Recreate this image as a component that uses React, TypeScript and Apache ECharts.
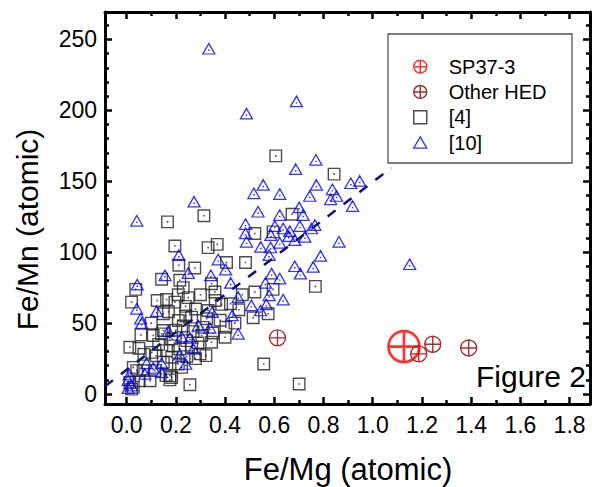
import React, { useEffect, useRef } from 'react';
import * as echarts from 'echarts';

const FONT = "'Liberation Sans', Arial, Helvetica, sans-serif";

const X_MIN = -0.088;
const X_MAX = 1.883;
const Y_MIN = -7;
const Y_MAX = 269.3;

const xTickValues = [0, 0.2, 0.4, 0.6, 0.8, 1.0, 1.2, 1.4, 1.6, 1.8];
const xMinorValues = [0.1, 0.3, 0.5, 0.7, 0.9, 1.1, 1.3, 1.5, 1.7];
const yTickValues = [0, 50, 100, 150, 200, 250];
const yMinorValues = [10, 20, 30, 40, 60, 70, 80, 90, 110, 120, 130, 140, 160, 170, 180, 190, 210, 220, 230, 240, 260];

const sp37Data = [[1.127, 33.5]];
const otherHedData = [[0.613, 39.6], [1.187, 28.3], [1.244, 35.1], [1.39, 32.5]];

const ref4Data = [
  [0.606, 167.9], [0.843, 155.0], [0.314, 125.7], [0.166, 121.4], [0.672, 126.7],
  [0.521, 113.2], [0.595, 114.3], [0.196, 104.4], [0.331, 103.2], [0.368, 105.5],
  [0.767, 75.9], [0.701, 7.1], [0.212, 90.8], [0.277, 88.9], [0.406, 92.7],
  [0.483, 92.7], [0.142, 80.9], [0.216, 80.2], [0.345, 77.8], [0.037, 73.8],
  [0.23, 75.0], [0.359, 71.9], [0.521, 71.9], [0.595, 73.8], [0.02, 64.8],
  [0.124, 66.0], [0.162, 66.7], [0.196, 64.8], [0.24, 61.8], [0.331, 58.9],
  [0.386, 63.2], [0.422, 63.7], [0.456, 59.4], [0.514, 53.8], [0.575, 56.6],
  [0.21, 51.9], [0.264, 54.2], [0.325, 53.1], [0.149, 44.8], [0.058, 41.7],
  [0.108, 41.3], [0.183, 38.9], [0.244, 37.7], [0.305, 41.3], [0.345, 36.5],
  [0.403, 47.1], [0.013, 33.0], [0.05, 32.3], [0.102, 29.4], [0.162, 30.6],
  [0.216, 31.8], [0.264, 33.0], [0.298, 28.3], [0.322, 27.1], [0.244, 26.4],
  [0.183, 25.9], [0.21, 21.2], [0.149, 22.4], [0.223, 18.8], [0.095, 9.4],
  [0.183, 11.7], [0.257, 6.6], [0.013, 8.2], [0.027, 4.7], [0.067, 16.5],
  [0.041, 16.5], [0.115, 16.5], [0.557, 21.2], [0.149, 56.6], [0.142, 42.4],
  [0.027, 18.8], [0.051, 9.4], [0.176, 10.0], [0.02, 3.5], [0.176, 13.0],
  [0.2, 45], [0.23, 48], [0.27, 44], [0.29, 36], [0.19, 34], [0.13, 35],
  [0.28, 25], [0.31, 47], [0.35, 43], [0.38, 52], [0.24, 55], [0.17, 58],
  [0.28, 60], [0.36, 66], [0.44, 50], [0.4, 40], [0.1, 50], [0.07, 28],
  [0.21, 70], [0.3, 70], [0.25, 68], [0.47, 70], [0.16, 13], [0.12, 27]
];

const ref10Data = [
  [0.334, 243.4], [0.69, 206.3], [0.487, 197.6], [0.769, 165.1], [0.687, 158.5],
  [0.555, 147.4], [0.517, 141.5], [0.622, 141.0], [0.771, 147.4], [0.744, 139.6],
  [0.836, 144.3], [0.829, 137.3], [0.853, 139.6], [0.911, 148.6], [0.947, 150.2],
  [0.918, 132.5], [0.274, 135.6], [0.041, 122.1], [0.534, 128.5], [0.622, 126.2],
  [0.701, 131.6], [0.717, 126.2], [0.483, 119.8], [0.602, 118.4], [0.636, 116.7],
  [0.663, 114.8], [0.704, 118.4], [0.751, 116.7], [0.765, 119.1], [0.483, 113.2],
  [0.586, 112.0], [0.659, 111.3], [0.724, 110.8], [0.487, 107.3], [0.622, 106.6],
  [0.683, 108.5], [0.863, 107.3], [0.545, 103.7], [0.585, 103.3], [0.788, 97.4],
  [0.579, 97.9], [1.15, 91.5], [0.683, 90.1], [0.758, 89.6], [0.706, 84.9],
  [0.636, 66.5], [0.622, 81.4], [0.212, 97.9], [0.372, 94.8], [0.402, 87.7],
  [0.25, 85.3], [0.156, 83.7], [0.342, 83.7], [0.043, 77.1], [0.423, 78.3],
  [0.453, 68.4], [0.041, 60.1], [0.122, 58.4], [0.057, 53.1], [0.061, 50.0],
  [0.348, 57.7], [0.429, 55.4], [0.291, 48.3], [0.338, 46.7], [0.169, 44.3],
  [0.223, 40.5], [0.257, 39.6], [0.271, 31.8], [0.453, 42.5], [0.216, 27.8],
  [0.24, 21.2], [0.081, 21.7], [0.142, 21.7], [0.108, 18.4], [0.142, 15.3],
  [0.074, 14.2], [0.011, 13.7], [0.006, 9.9], [0.02, 5.9], [0.006, 4.2],
  [0.507, 62.5], [0.544, 58.9], [0.568, 63.2], [0.579, 69.6], [0.564, 78.3],
  [0.589, 84.9]
];

const trendLine = [[-0.088, 5.5], [1.076, 159.5]];

const CROSS_PATH = 'path://M0 -10A10 10 0 1 1 0 10A10 10 0 1 1 0 -10Z M-10 0L10 0M0 -10L0 10';
const SQUARE_DOT = 'path://M0 0H12V12H0Z M5.9 5.9H6.1V6.1H5.9Z';
const TRI_DOT = 'path://M6 0L12 10.4L0 10.4Z M5.9 6.6H6.1V6.8H5.9Z';
const SQUARE = 'path://M0 0H12V12H0Z';
const TRI = 'path://M6 0L12 10.4L0 10.4Z';

function xAxisDef(position: 'bottom' | 'top', values: number[], len: number, labels: boolean, line: boolean) {
  return {
    type: 'value', min: X_MIN, max: X_MAX, position,
    axisLine: { show: line, onZero: false, lineStyle: { color: '#000', width: 3 } },
    axisTick: { show: true, inside: true, length: len, customValues: values, lineStyle: { color: '#000', width: 2.5 } },
    axisLabel: labels
      ? { show: true, customValues: values, formatter: (v: number) => v.toFixed(1), fontSize: 23, color: '#000', fontFamily: FONT, margin: 9 }
      : { show: false },
    splitLine: { show: false },
  };
}

function yAxisDef(position: 'left' | 'right', values: number[], len: number, labels: boolean, line: boolean) {
  return {
    type: 'value', min: Y_MIN, max: Y_MAX, position,
    axisLine: { show: line, onZero: false, lineStyle: { color: '#000', width: 3 } },
    axisTick: { show: true, inside: true, length: len, customValues: values, lineStyle: { color: '#000', width: 2.5 } },
    axisLabel: labels
      ? { show: true, customValues: values, formatter: (v: number) => String(Math.round(v)), fontSize: 23, color: '#000', fontFamily: FONT, margin: 8 }
      : { show: false },
    splitLine: { show: false },
  };
}

export default function App() {
  const ref = useRef<HTMLDivElement>(null);
  useEffect(() => {
    if (!ref.current) return;
    const chart = echarts.init(ref.current, null, { renderer: 'svg' });
    chart.setOption({
      animation: false,
      backgroundColor: '#fff',
      grid: { left: 105, top: 12, width: 485, height: 392, outerBoundsMode: 'none', containLabel: false },
      xAxis: [
        xAxisDef('bottom', xTickValues, 7, true, true),
        xAxisDef('bottom', xMinorValues, 4, false, false),
        xAxisDef('top', xTickValues, 7, false, true),
        xAxisDef('top', xMinorValues, 4, false, false),
      ],
      yAxis: [
        yAxisDef('left', yTickValues, 7, true, true),
        yAxisDef('left', yMinorValues, 4, false, false),
        yAxisDef('right', yTickValues, 7, false, true),
        yAxisDef('right', yMinorValues, 4, false, false),
      ],
      legend: {
        orient: 'vertical', left: 413, top: 54, padding: 0,
        itemWidth: 13, itemHeight: 13, itemGap: 0, selectedMode: false,
        textStyle: { fontSize: 20, fontFamily: FONT, color: '#000', lineHeight: 25.3, padding: [0, 0, 0, 17] },
        data: [
          { name: 'SP37-3', icon: CROSS_PATH, itemStyle: { borderWidth: 1.5 } },
          { name: 'Other HED', icon: CROSS_PATH, itemStyle: { borderWidth: 1.5 } },
          { name: '[4]', icon: SQUARE, itemStyle: { borderWidth: 1.5 } },
          { name: '[10]', icon: TRI, itemStyle: { borderWidth: 1.3 } },
        ],
      },
      graphic: [
        { type: 'rect', shape: { x: 388, y: 34, width: 184, height: 129 }, style: { fill: 'transparent', stroke: '#555', lineWidth: 1.3 }, z: 1 },
        { type: 'text', x: 348, y: 469, style: { text: 'Fe/Mg (atomic)', font: `31px ${FONT}`, fill: '#000', align: 'center', verticalAlign: 'middle' } },
        { type: 'text', x: 27, y: 229.5, rotation: Math.PI / 2, style: { text: 'Fe/Mn (atomic)', font: `30px ${FONT}`, fill: '#000', align: 'center', verticalAlign: 'middle' } },
        { type: 'text', x: 476, y: 376, style: { text: 'Figure 2', font: `30px ${FONT}`, fill: '#000', align: 'left', verticalAlign: 'middle' } },
      ],
      series: [
        {
          name: '[4]', type: 'scatter', data: ref4Data, symbol: SQUARE_DOT, symbolSize: 11.5,
          itemStyle: { color: 'transparent', borderColor: '#222', borderWidth: 1.4 }, z: 2, silent: true,
        },
        {
          name: '[10]', type: 'scatter', data: ref10Data, symbol: TRI_DOT, symbolSize: [12, 10.5],
          itemStyle: { color: 'transparent', borderColor: '#0000ff', borderWidth: 1.3 }, z: 3, silent: true,
        },
        {
          name: 'fit', type: 'line', data: trendLine, symbol: 'none', showSymbol: false,
          lineStyle: { type: [10, 10], width: 2.5, color: '#10107a' }, z: 4, silent: true,
        },
        {
          name: 'Other HED', type: 'scatter', data: otherHedData, symbol: CROSS_PATH, symbolSize: 16,
          itemStyle: { color: 'transparent', borderColor: '#8b0000', borderWidth: 1.4 }, z: 5, silent: true,
        },
        {
          name: 'SP37-3', type: 'scatter', data: sp37Data, symbol: CROSS_PATH, symbolSize: 31,
          itemStyle: { color: 'transparent', borderColor: '#ff0000', borderWidth: 2.7 }, z: 6, silent: true,
        },
      ],
    });
    return () => chart.dispose();
  }, []);
  return <div ref={ref} style={{ position: 'absolute', left: 0, top: 0, width: 592, height: 487 }} />;
}
